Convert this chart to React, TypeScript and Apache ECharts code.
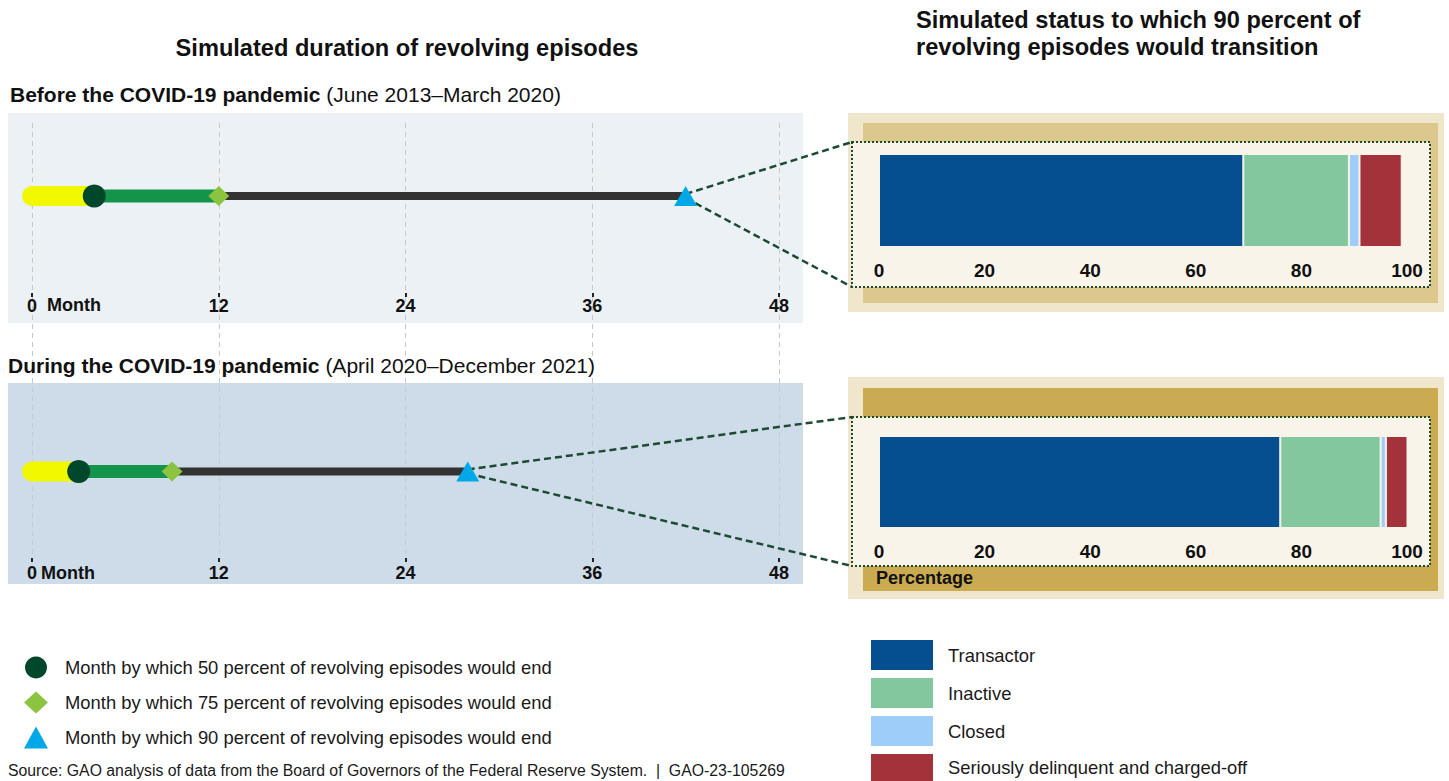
import React, { useEffect, useRef } from "react";
import * as echarts from "echarts";

// ---------- data ----------
const periodTitles = ["Before the COVID-19 pandemic", "During the COVID-19 pandemic"];
const periodRanges = ["(June 2013–March 2020)", "(April 2020–December 2021)"];
const month50 = [4, 3];
const month75 = [12, 9];
const month90 = [42, 28];
const monthMin = 0;
const monthMax = 48;
const monthStep = 12;
const markerLabels = [
  "Month by which 50 percent of revolving episodes would end",
  "Month by which 75 percent of revolving episodes would end",
  "Month by which 90 percent of revolving episodes would end",
];
const statusNames = ["Transactor", "Inactive", "Closed", "Seriously delinquent and charged-off"];
const statusBefore = [69, 20, 2, 8];
const statusDuring = [76, 19, 1, 5];
const pctMin = 0;
const pctMax = 100;
const pctStep = 20;

// ---------- styles ----------
const FONT = '"Liberation Sans", Arial, Helvetica, sans-serif';
const statusColors = ["#054f91", "#82c79e", "#9fcdfa", "#a3323b"];
const markerSymbols = ["circle", "diamond", "triangle"];
const markerColors = ["#00472b", "#8cc43f", "#00a8e8"];
const markerSizes: any[] = [23, [21, 20], [23, 20]];
const segColors = ["#f2f800", "#12944a", "#333333"];
const segWidths = [20, 13, 8];

const TL_LEFT = 32;
const TL_WIDTH = 747;
const BAR_LEFT = 879;
const BAR_WIDTH = 528;

const boxes = [
  { outer: [848, 113, 596, 199], inner: [863, 123, 575, 180], dotted: [852, 142, 578, 145], innerColor: "#dcc88c" },
  { outer: [848, 377, 596, 222], inner: [863, 388, 575, 203], dotted: [852, 417, 578, 149], innerColor: "#cbab52" },
];

export default function App() {
  const ref = useRef<HTMLDivElement>(null);

  useEffect(() => {
    if (!ref.current) return;
    document.body.style.margin = "0";
    const chart = echarts.init(ref.current, undefined, { renderer: "svg" });

    const statusSets = [statusBefore, statusDuring];

    const monthAxisLabel = (margin: number) => ({
      margin,
      fontFamily: FONT,
      fontSize: 18,
      fontWeight: "bold",
      color: "#111",
    });

    const xAxis: any[] = [
      {
        gridIndex: 0, type: "value", min: monthMin, max: monthMax, interval: monthStep, z: 1,
        axisLine: { show: false },
        axisTick: { show: true, inside: true, length: 4, lineStyle: { color: "#222", width: 2 } },
        axisLabel: monthAxisLabel(0),
        splitLine: { show: true, lineStyle: { color: "#c8c8c8", width: 1, type: [5, 4] } },
      },
      {
        gridIndex: 1, type: "value", min: monthMin, max: monthMax, interval: monthStep, z: 1,
        axisLine: { show: false },
        axisTick: { show: true, inside: true, length: 4, lineStyle: { color: "#222", width: 2 } },
        axisLabel: monthAxisLabel(2),
        splitLine: { show: true, lineStyle: { color: "#c8c8c8", width: 1, type: [5, 4] } },
      },
      { gridIndex: 2, type: "value", min: monthMin, max: monthMax, interval: monthStep, show: false },
      { gridIndex: 3, type: "value", min: monthMin, max: monthMax, interval: monthStep, show: false },
      {
        gridIndex: 4, type: "value", min: pctMin, max: pctMax, interval: pctStep, z: 3,
        axisLine: { show: false }, axisTick: { show: false }, splitLine: { show: false },
        axisLabel: { margin: 14, fontFamily: FONT, fontSize: 19, fontWeight: "bold", color: "#111" },
      },
      {
        gridIndex: 5, type: "value", min: pctMin, max: pctMax, interval: pctStep, z: 3,
        axisLine: { show: false }, axisTick: { show: false }, splitLine: { show: false },
        axisLabel: { margin: 14, fontFamily: FONT, fontSize: 19, fontWeight: "bold", color: "#111" },
      },
    ];

    const yAxis: any[] = [
      { gridIndex: 0, type: "value", show: false },
      { gridIndex: 1, type: "value", show: false },
      { gridIndex: 2, type: "category", data: [periodTitles[0]], show: false },
      { gridIndex: 3, type: "category", data: [periodTitles[1]], show: false },
      { gridIndex: 4, type: "category", data: [periodTitles[0]], show: false },
      { gridIndex: 5, type: "category", data: [periodTitles[1]], show: false },
    ];

    const grid: any[] = [
      { left: TL_LEFT, width: TL_WIDTH, top: 123, height: 174 },
      { left: TL_LEFT, width: TL_WIDTH, top: 297, height: 265 },
      { left: TL_LEFT, width: TL_WIDTH, top: 186, height: 20 },
      { left: TL_LEFT, width: TL_WIDTH, top: 461.5, height: 20 },
      { left: BAR_LEFT, width: BAR_WIDTH, top: 154, height: 93 },
      { left: BAR_LEFT, width: BAR_WIDTH, top: 436, height: 92 },
    ].map((g) => ({ ...g, outerBoundsMode: "none", containLabel: false }));

    const series: any[] = [];
    for (let p = 0; p < 2; p++) {
      const cat = periodTitles[p];
      const bounds = [monthMin, month50[p], month75[p], month90[p]];
      // segments: yellow (start->50%), green (50%->75%), dark (75%->90%)
      for (let s = 0; s < 3; s++) {
        series.push({
          type: "line",
          xAxisIndex: 2 + p,
          yAxisIndex: 2 + p,
          data: [[bounds[s], cat], [bounds[s + 1], cat]],
          symbol: "none",
          silent: true,
          z: 4 - s,
          lineStyle: { color: segColors[s], width: segWidths[s], cap: s === 0 ? "round" : "butt" },
          emphasis: { disabled: true },
        });
      }
      const markerVals = [month50[p], month75[p], month90[p]];
      for (let m = 0; m < 3; m++) {
        series.push({
          type: "scatter",
          name: markerLabels[m],
          xAxisIndex: 2 + p,
          yAxisIndex: 2 + p,
          data: [[markerVals[m], cat]],
          symbol: markerSymbols[m],
          symbolSize: markerSizes[m],
          itemStyle: { color: markerColors[m], opacity: 1 },
          z: 6,
          silent: true,
        });
      }
      for (let i = 0; i < statusNames.length; i++) {
        series.push({
          type: "bar",
          name: statusNames[i],
          stack: "status" + p,
          xAxisIndex: 4 + p,
          yAxisIndex: 4 + p,
          data: [statusSets[p][i]],
          barWidth: "100%",
          itemStyle: { color: statusColors[i], borderColor: "#f8f4ea", borderWidth: 1 },
          z: 3,
          silent: true,
        });
      }
    }

    const statusLegendBase = {
      orient: "vertical",
      left: 871,
      padding: 0,
      icon: "rect",
      itemWidth: 62,
      itemGap: 8,
      selectedMode: false,
      itemStyle: { borderWidth: 0 },
      textStyle: { fontFamily: FONT, fontSize: 18.4, color: "#1a1a1a", padding: [0, 0, 0, 10] },
    };
    const legend: any[] = [
      {
        data: markerLabels.map((n) => ({ name: n })),
        orient: "vertical",
        left: 24,
        top: 656.5,
        padding: 0,
        itemWidth: 24,
        itemHeight: 22,
        itemGap: 13,
        selectedMode: false,
        textStyle: { fontFamily: FONT, fontSize: 18.4, color: "#1a1a1a", padding: [0, 0, 0, 12] },
      },
      { ...statusLegendBase, data: statusNames.slice(0, 3).map((n) => ({ name: n })), top: 640, itemHeight: 30 },
      { ...statusLegendBase, data: statusNames.slice(3).map((n) => ({ name: n })), top: 754, itemHeight: 27 },
    ];

    const baseOption: any = {
      animation: false,
      backgroundColor: "#ffffff",
      grid,
      xAxis,
      yAxis,
      series,
      legend,
    };
    chart.setOption(baseOption);

    // graphic decorations
    const elements: any[] = [];
    // left panels
    elements.push({ type: "rect", z: -5, shape: { x: 8, y: 113, width: 795, height: 210 }, style: { fill: "#ebf1f5" }, silent: true });
    elements.push({ type: "rect", z: -5, shape: { x: 8, y: 383, width: 795, height: 201 }, style: { fill: "#cddce8" }, silent: true });
    // right panels
    boxes.forEach((b) => {
      elements.push({ type: "rect", z: -5, shape: { x: b.outer[0], y: b.outer[1], width: b.outer[2], height: b.outer[3] }, style: { fill: "#efe6cc" }, silent: true });
      elements.push({ type: "rect", z: -4, shape: { x: b.inner[0], y: b.inner[1], width: b.inner[2], height: b.inner[3] }, style: { fill: b.innerColor }, silent: true });
      elements.push({
        type: "rect", z: -3,
        shape: { x: b.dotted[0], y: b.dotted[1], width: b.dotted[2], height: b.dotted[3] },
        style: { fill: "#f8f4ea", stroke: "#1e4a2c", lineWidth: 2, lineDash: [2, 2] },
        silent: true,
      });
    });
    // connectors from 90% triangle to dotted boxes
    for (let p = 0; p < 2; p++) {
      const pt = chart.convertToPixel({ xAxisIndex: 2 + p, yAxisIndex: 2 + p } as any, [month90[p], 0] as any) as any;
      if (pt && isFinite(pt[0])) {
        const b = boxes[p].dotted;
        elements.push({ type: "line", z: 5, shape: { x1: pt[0], y1: pt[1] - 2, x2: b[0], y2: b[1] }, style: { stroke: "#1e4a33", lineWidth: 2.5, lineDash: [7, 4] }, silent: true });
        elements.push({ type: "line", z: 5, shape: { x1: pt[0], y1: pt[1] + 2, x2: b[0], y2: b[1] + b[3] }, style: { stroke: "#1e4a33", lineWidth: 2.5, lineDash: [7, 4] }, silent: true });
      }
    }
    const txt = (x: number, y: number, text: string, size: number, bold: boolean, align = "left", extra: any = {}) => ({
      type: "text",
      x,
      y,
      z: 10,
      silent: true,
      style: {
        text,
        fontFamily: FONT,
        fontSize: size,
        fontWeight: bold ? "bold" : "normal",
        fill: "#111",
        align,
        verticalAlign: "middle",
        textAlign: align,
        textVerticalAlign: "middle",
        ...extra,
      },
    });
    elements.push(txt(407, 48, "Simulated duration of revolving episodes", 23.6, true, "center"));
    elements.push(txt(916, 20, "Simulated status to which 90 percent of", 23.6, true));
    elements.push(txt(916, 47, "revolving episodes would transition", 23.6, true));
    const headY = [94, 365];
    const headX = [10, 8];
    for (let p = 0; p < 2; p++) {
      elements.push({
        type: "text",
        x: headX[p],
        y: headY[p],
        z: 10,
        silent: true,
        style: {
          text: `{b|${periodTitles[p]}} {n|${periodRanges[p]}}`,
          fontFamily: FONT,
          fontSize: 21,
          fill: "#111",
          align: "left",
          verticalAlign: "middle",
          rich: {
            b: { fontFamily: FONT, fontSize: 21, fontWeight: "bold", fill: "#111" },
            n: { fontFamily: FONT, fontSize: 21, fontWeight: "normal", fill: "#111" },
          },
        },
      });
    }
    elements.push(txt(47, 305, "Month", 18, true));
    elements.push(txt(41, 573, "Month", 18, true));
    elements.push(txt(876, 578, "Percentage", 18, true));
    elements.push(
      txt(8, 770, "Source: GAO analysis of data from the Board of Governors of the Federal Reserve System.  |  GAO-23-105269", 15.8, false, "left", { fill: "#1a1a1a" })
    );

    chart.setOption({ graphic: { elements } });

    return () => {
      chart.dispose();
    };
  }, []);

  return (
    <div
      ref={ref}
      style={{ position: "fixed", left: 0, top: 0, width: 1449, height: 781, background: "#fff" }}
    />
  );
}
